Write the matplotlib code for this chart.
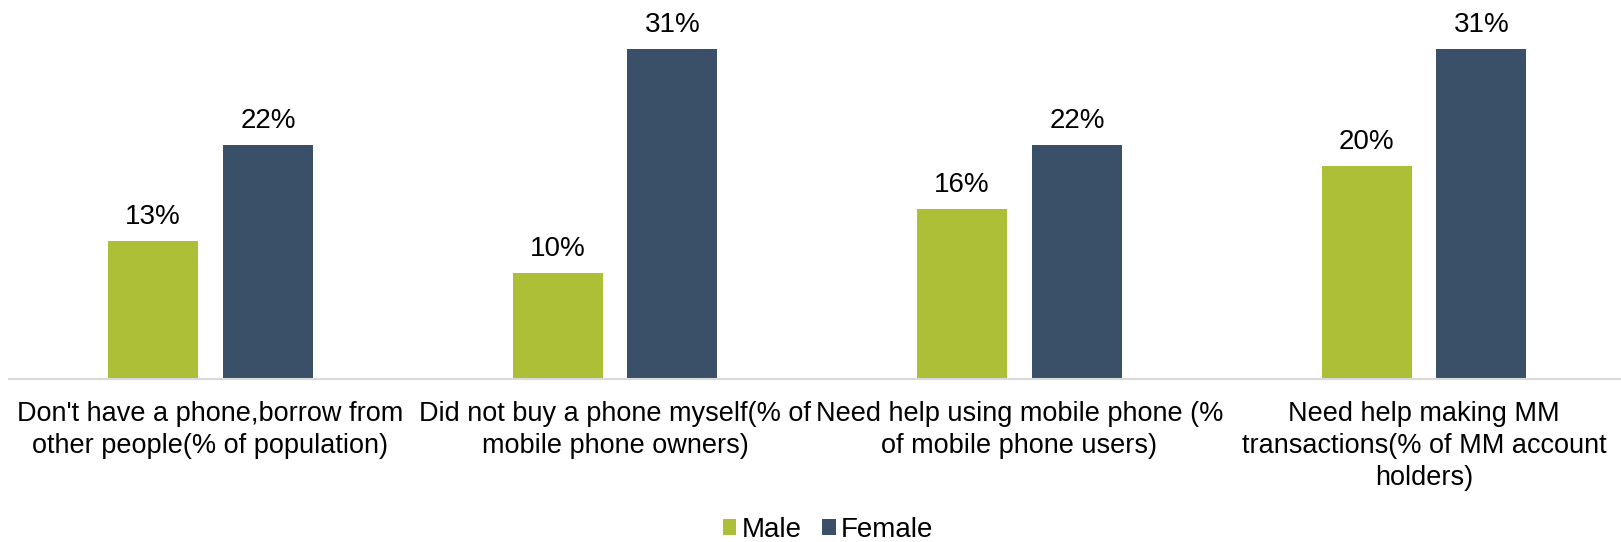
import matplotlib
matplotlib.use("Agg")
import matplotlib.pyplot as plt
import numpy as np

categories = [
    "Don't have a phone,borrow from\nother people(% of population)",
    "Did not buy a phone myself(% of\nmobile phone owners)",
    "Need help using mobile phone (%\nof mobile phone users)",
    "Need help making MM\ntransactions(% of MM account\nholders)",
]
male = [13, 10, 16, 20]
female = [22, 31, 22, 31]
series_names = ["Male", "Female"]
colors = ["#ADBE37", "#3A5068"]

plt.rcParams['font.family'] = ['Liberation Sans', 'DejaVu Sans']

W, H = 1621, 542
fig = plt.figure(figsize=(W / 100, H / 100), dpi=100)
ax = fig.add_axes([9 / W, (H - 379) / H, (W - 9) / W, 379 / H])

x = np.arange(len(categories))
bw = 0.2225
off = 0.142
b1 = ax.bar(x - off, male, bw, color=colors[0], label=series_names[0])
b2 = ax.bar(x + off, female, bw, color=colors[1], label=series_names[1])

for bars, vals in ((b1, male), (b2, female)):
    for rect, v in zip(bars, vals):
        ax.annotate(f"{v}%", (rect.get_x() + rect.get_width() / 2, v),
                    xytext=(0, 8), textcoords="offset points",
                    ha="center", va="bottom", fontsize=20, color="black")

ax.set_xlim(-0.498, 3.487)
ax.set_ylim(0, 35.65)
for s in ["top", "right", "left"]:
    ax.spines[s].set_visible(False)
ax.spines["bottom"].set_color("#D9D9D9")
ax.spines["bottom"].set_linewidth(1.5)
ax.set_yticks([])
ax.set_xticks(x)
ax.set_xticklabels(categories, fontsize=19.5, linespacing=1.3)
ax.tick_params(axis="x", length=0, pad=16)

leg = fig.legend(handles=[b1, b2], labels=series_names, loc="center",
                 bbox_to_anchor=(828 / W, (H - 530) / H), ncol=2, frameon=False,
                 fontsize=20, handlelength=0.48, handleheight=0.48,
                 handletextpad=0.18, columnspacing=0.75, borderpad=0.1)

fig.savefig("out.png", dpi=100)
